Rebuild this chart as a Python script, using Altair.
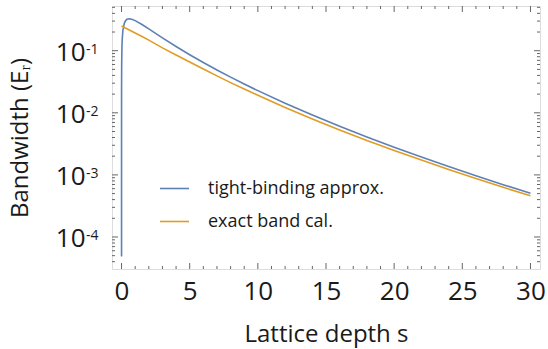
import altair as alt
import pandas as pd

# ---- data ----
series_names = ["tight-binding approx.", "exact band cal."]

s_tb = [6e-7, 1e-6, 1e-5, 1e-4, 1e-3, 3e-3, 0.01, 0.03, 0.05, 0.1, 0.2, 0.3, 0.4, 0.5625,
        0.75, 1, 1.5, 2, 2.5, 3, 4, 5, 6, 7, 8, 9, 10, 12, 14, 16, 18, 20, 22, 24, 26, 28, 30]
j_tb = [4.86e-5, 7.1e-5, 3.99e-4, 2.21e-3, 0.0119, 0.0259, 0.0584, 0.1151, 0.1525, 0.2132,
        0.276, 0.306, 0.3205, 0.3271, 0.3217, 0.3054, 0.2641, 0.2243, 0.1899, 0.161, 0.1169,
        0.0862, 0.0645, 0.0489, 0.0375, 0.02907, 0.02275, 0.01426, 0.00919, 0.00606, 0.00407,
        0.002785, 0.001933, 0.00136, 0.000968, 0.000696, 0.000506]

s_ex = [0, 0.5, 1, 1.5, 2, 3, 4, 5, 6, 7, 8, 9, 10, 12, 14, 16, 18, 20, 22, 24, 26, 28, 30]
j_ex = [0.25, 0.2202, 0.1932, 0.1694, 0.148, 0.111, 0.0855, 0.0658, 0.0507, 0.0393, 0.0306,
        0.0241, 0.0192, 0.0122, 0.00796, 0.0053, 0.00359, 0.00247, 0.00173, 0.00122, 0.000873,
        0.00063, 0.00046]

x_major = [0, 5, 10, 15, 20, 25, 30]
x_minor = [1, 2, 3, 4, 6, 7, 8, 9, 11, 12, 13, 14, 16, 17, 18, 19, 21, 22, 23, 24,
           26, 27, 28, 29]
y_major = [1e-1, 1e-2, 1e-3, 1e-4]
y_exponents = ["-1", "-2", "-3", "-4"]
y_minor = [4e-5, 5e-5, 6e-5, 7e-5, 8e-5, 9e-5,
           2e-4, 3e-4, 4e-4, 5e-4, 6e-4, 7e-4, 8e-4, 9e-4,
           2e-3, 3e-3, 4e-3, 5e-3, 6e-3, 7e-3, 8e-3, 9e-3,
           2e-2, 3e-2, 4e-2, 5e-2, 6e-2, 7e-2, 8e-2, 9e-2,
           0.2, 0.3, 0.4, 0.5]

colors = ["#5E81B5", "#E19C24"]

# ---- tables ----
lines_df = pd.concat([
    pd.DataFrame({"s": s_tb, "v": j_tb, "series": series_names[0]}),
    pd.DataFrame({"s": s_ex, "v": j_ex, "series": series_names[1]}),
])
xmaj_df = pd.DataFrame({"s": x_major})
xmin_df = pd.DataFrame({"s": x_minor})
ymaj_df = pd.DataFrame({"v": y_major, "e": y_exponents})
ymin_df = pd.DataFrame({"v": y_minor})

W, H = 428, 263
FONT = "Open Sans"
TXT = "#1a1a1a"
FRAME = "#666666"

xscale = alt.Scale(domain=[-0.70, 30.70], nice=False, zero=False)
yscale = alt.Scale(type="log", domain=[3.05e-5, 0.525], nice=False)

xaxis = alt.Axis(values=x_major, ticks=False, domain=False, grid=False, labelFont=FONT,
                 labelFontSize=26, labelColor=TXT, labelPadding=9, labelFlush=False,
                 title="Lattice depth s", titleFont=FONT, titleFontSize=24,
                 titleFontWeight="normal", titleColor=TXT, titlePadding=18)
yaxis = alt.Axis(labels=False, ticks=False, domain=False, grid=False,
                 title="Bandwidth (Eᵣ)", titleFont=FONT, titleFontSize=24,
                 titleFontWeight="normal", titleColor=TXT, titlePadding=80)

X = alt.X("s:Q", scale=xscale, axis=xaxis)
Y = alt.Y("v:Q", scale=yscale, axis=yaxis)

lines = alt.Chart(lines_df).mark_line(strokeWidth=1.6, clip=True).encode(
    x=X, y=Y,
    color=alt.Color("series:N", sort=series_names,
                    scale=alt.Scale(domain=series_names, range=colors),
                    legend=alt.Legend(orient="none", legendX=47, legendY=167, title=None,
                                      symbolType="stroke", symbolSize=841,
                                      symbolStrokeWidth=1.6, labelFont=FONT,
                                      labelFontSize=18, labelColor=TXT, labelOffset=18,
                                      labelLimit=400, rowPadding=8)),
)

tick_color = FRAME
bx_maj = alt.Chart(xmaj_df).mark_rule(color=tick_color, strokeWidth=1).encode(
    x=X, y=alt.value(H), y2=alt.value(H - 6))
bx_min = alt.Chart(xmin_df).mark_rule(color=tick_color, strokeWidth=1).encode(
    x=X, y=alt.value(H), y2=alt.value(H - 3))
tx_maj = alt.Chart(xmaj_df).mark_rule(color=tick_color, strokeWidth=1).encode(
    x=X, y=alt.value(0), y2=alt.value(6))
tx_min = alt.Chart(xmin_df).mark_rule(color=tick_color, strokeWidth=1).encode(
    x=X, y=alt.value(0), y2=alt.value(3))
ly_maj = alt.Chart(ymaj_df).mark_rule(color=tick_color, strokeWidth=1).encode(
    y=Y, x=alt.value(0), x2=alt.value(6))
ly_min = alt.Chart(ymin_df).mark_rule(color=tick_color, strokeWidth=1).encode(
    y=Y, x=alt.value(0), x2=alt.value(3))
ry_maj = alt.Chart(ymaj_df).mark_rule(color=tick_color, strokeWidth=1).encode(
    y=Y, x=alt.value(W), x2=alt.value(W - 6))
ry_min = alt.Chart(ymin_df).mark_rule(color=tick_color, strokeWidth=1).encode(
    y=Y, x=alt.value(W), x2=alt.value(W - 3))

lab_base = alt.Chart(ymaj_df).mark_text(text="10", font=FONT, fontSize=26, color=TXT,
                                        align="right", baseline="alphabetic", dy=10).encode(
    y=Y, x=alt.value(-26.5))
lab_exp = alt.Chart(ymaj_df).mark_text(font=FONT, fontSize=14, color=TXT, align="left",
                                       baseline="alphabetic", dy=3).encode(
    y=Y, x=alt.value(-26), text="e:N")

chart = alt.layer(lines, bx_maj, bx_min, tx_maj, tx_min, ly_maj, ly_min, ry_maj, ry_min,
                  lab_base, lab_exp).properties(
    width=W, height=H,
    autosize=alt.AutoSizeParams(type="none"),
    padding={"left": 112, "top": 6, "right": 8, "bottom": 80},
).configure_view(stroke=FRAME, strokeWidth=1).configure(background="white")

chart.save("out.html", embed_options={"renderer": "svg", "actions": False})
